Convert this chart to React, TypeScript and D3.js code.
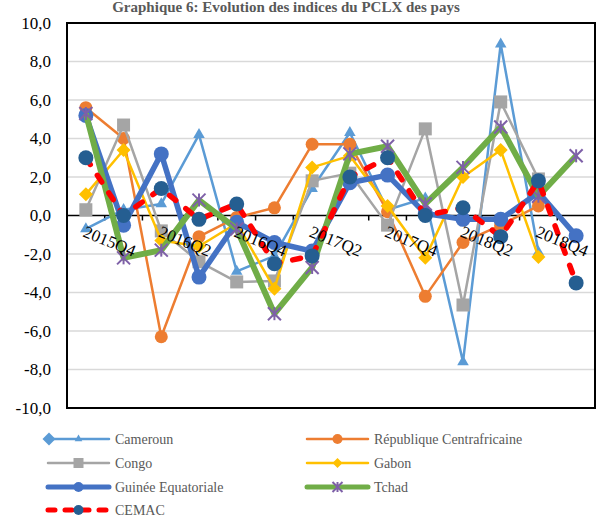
import React from "react";
import * as d3 from "d3";

const categories = ["2015Q4","2016Q1","2016Q2","2016Q3","2016Q4","2017Q1","2017Q2","2017Q3","2017Q4","2018Q1","2018Q2","2018Q3","2018Q4","2019Q1"];
const yTicks = [-10, -8, -6, -4, -2, 0, 2, 4, 6, 8, 10];

const cameroun = [-0.7, 0.3, 0.6, 4.2, -2.9, -2.1, 1.4, 4.3, 0.3, 0.9, -7.6, 8.9, -1.9, null];
const rca = [5.6, 4.0, -6.3, -1.1, -0.1, 0.4, 3.7, 3.7, 0.2, -4.2, -1.4, -0.5, 0.5, null];
const congo = [0.3, 4.7, -0.8, -2.4, -3.45, -3.4, 1.8, 2.2, -0.5, 4.5, -4.65, 5.9, 1.9, null];
const gabon = [1.1, 3.4, -1.3, -1.6, -0.4, -3.8, 2.5, 3.1, 0.5, -2.2, 2.0, 3.4, -2.15, null];
const guinee = [5.2, -0.5, 3.2, -3.2, -0.35, -1.4, -1.85, 1.7, 2.1, 0.1, -0.2, -0.2, 1.2, -1.05];
const tchad = [5.3, -2.2, -1.8, 0.8, -0.7, -5.1, -2.7, 3.2, 3.6, 0.6, 2.5, 4.6, 1.0, 3.1];
const cemac = [3.0, 0.0, 1.4, -0.2, 0.6, -2.5, -2.1, 2.0, 3.0, 0.0, 0.4, -1.1, 1.8, -3.5];

const seriesNames = ["Cameroun", "République Centrafricaine", "Congo", "Gabon", "Guinée Equatoriale", "Tchad", "CEMAC"];

type Marker = "triangle" | "circle" | "square" | "diamond" | "star";
interface S { name: string; values: (number | null)[]; color: string; width: number; marker: Marker; mcolor: string; msize: number; dash?: string; }

const series: S[] = [
  { name: seriesNames[0], values: cameroun, color: "#5B9BD5", width: 2.5, marker: "triangle", mcolor: "#5B9BD5", msize: 6 },
  { name: seriesNames[1], values: rca, color: "#ED7D31", width: 2.5, marker: "circle", mcolor: "#ED7D31", msize: 6.5 },
  { name: seriesNames[2], values: congo, color: "#A5A5A5", width: 2.5, marker: "square", mcolor: "#A5A5A5", msize: 6.5 },
  { name: seriesNames[3], values: gabon, color: "#FFC000", width: 2.5, marker: "diamond", mcolor: "#FFC000", msize: 7 },
  { name: seriesNames[4], values: guinee, color: "#4472C4", width: 5.5, marker: "circle", mcolor: "#4472C4", msize: 7.5 },
  { name: seriesNames[5], values: tchad, color: "#70AD47", width: 6, marker: "star", mcolor: "#7E60A8", msize: 6.5 },
  { name: seriesNames[6], values: cemac, color: "#FF0000", width: 5.5, marker: "circle", mcolor: "#255E91", msize: 7.5, dash: "8 13" },
];

const W = 597, H = 518;
const left = 67, right = 595, top = 23, bottom = 408;

const loc = d3.formatLocale({ decimal: ",", thousands: " ", grouping: [3], currency: ["", ""], minus: "-" });
const fmt = loc.format(".1f");

function MarkerShape({ type, x, y, size, color }: { type: Marker; x: number; y: number; size: number; color: string }) {
  if (type === "circle") return <circle cx={x} cy={y} r={size} fill={color} />;
  if (type === "square") return <rect x={x - size} y={y - size} width={size * 2} height={size * 2} fill={color} />;
  if (type === "diamond") return <path d={`M${x},${y - size}L${x + size},${y}L${x},${y + size}L${x - size},${y}Z`} fill={color} />;
  if (type === "triangle") {
    const p = d3.symbol(d3.symbolTriangle, size * size * 1.6)();
    return <path d={p || ""} transform={`translate(${x},${y})`} fill={color} />;
  }
  const s = size;
  return (
    <g stroke={color} strokeWidth={2}>
      <line x1={x - s} y1={y - s} x2={x + s} y2={y + s} />
      <line x1={x - s} y1={y + s} x2={x + s} y2={y - s} />
      <line x1={x} y1={y - s} x2={x} y2={y + s} />
    </g>
  );
}

export default function App() {
  const x = d3.scaleBand().domain(categories).range([left, right]);
  const y = d3.scaleLinear().domain([-10, 10]).range([bottom, top]);
  const cx = (c: string) => (x(c) as number) + x.bandwidth() / 2;

  const lineGen = (vals: (number | null)[]) =>
    d3.line<number | null>()
      .defined((d) => d !== null)
      .x((_, i) => cx(categories[i]))
      .y((d) => y(d as number))(vals) || "";

  const boundaries = d3.range(categories.length + 1).map((i) => left + i * x.bandwidth());

  const legendRows = [439, 463, 487, 510];
  const legendCols = [{ x1: 48, x2: 109, tx: 115 }, { x1: 307, x2: 368, tx: 374 }];

  return (
    <svg width={W} height={H} style={{ position: "absolute", left: 0, top: 0, background: "#fff" }} fontFamily="'Liberation Serif', 'Times New Roman', serif">
      <rect x={0} y={0} width={W} height={H} fill="#fff" />
      <text x={286} y={12} textAnchor="middle" fontWeight="bold" fontSize={15} fill="#595959">
        Graphique 6: Evolution des indices du PCLX des pays
      </text>
      {/* gridlines */}
      {yTicks.filter((t) => t !== 0 && Math.abs(t) !== 10).map((t) => (
        <line key={t} x1={left} x2={right} y1={y(t)} y2={y(t)} stroke="#D9D9D9" strokeWidth={1.5} />
      ))}
      {/* y labels */}
      {yTicks.map((t) => (
        <text key={t} x={51} y={y(t)} dy="0.35em" textAnchor="end" fontSize={17} fill="#000">{fmt(t)}</text>
      ))}
      {/* zero axis */}
      <line x1={left} x2={right} y1={y(0)} y2={y(0)} stroke="#000" strokeWidth={1.5} />
      {boundaries.map((b, i) => (
        <line key={i} x1={b} x2={b} y1={y(0)} y2={y(0) + 5} stroke="#000" strokeWidth={1.5} />
      ))}
      {/* series */}
      {series.map((s) => (
        <g key={s.name}>
          <path d={lineGen(s.values)} fill="none" stroke={s.color} strokeWidth={s.width} strokeDasharray={s.dash} strokeLinecap={s.dash ? "round" : "butt"} strokeLinejoin="round" />
          {s.values.map((v, i) => v === null ? null : (
            <MarkerShape key={i} type={s.marker} x={cx(categories[i])} y={y(v)} size={s.msize} color={s.mcolor} />
          ))}
        </g>
      ))}
      {/* x labels (drawn over the series) */}
      {categories.map((c, i) => i % 2 === 0 ? (
        <text key={c} transform={`translate(${cx(c) + 1},${y(0) + 9}) rotate(22)`} dy="0.75em" fontSize={17} fill="#000">{c}</text>
      ) : null)}
      {/* plot border */}
      <rect x={left} y={top} width={right - left} height={bottom - top} fill="none" stroke="#000" strokeWidth={2} />
      {/* legend */}
      {series.map((s, i) => {
        const col = legendCols[i % 2];
        const ly = legendRows[Math.floor(i / 2)];
        const mx = (col.x1 + col.x2) / 2;
        return (
          <g key={s.name}>
            <line x1={col.x1} x2={col.x2} y1={ly} y2={ly} stroke={s.color} strokeWidth={Math.min(s.width, 5)} strokeDasharray={s.dash ? "7 10" : undefined} strokeLinecap="round" />
            {i === 0 ? <MarkerShape type="diamond" x={col.x1 + 1} y={ly} size={6.5} color={s.color} /> : null}
            <MarkerShape type={s.marker} x={mx} y={ly} size={s.marker === "triangle" ? 4 : Math.min(s.msize, 5)} color={s.mcolor} />
            <text x={col.tx} y={ly} dy="0.35em" fontSize={14} fill="#595959">{s.name}</text>
          </g>
        );
      })}
    </svg>
  );
}
